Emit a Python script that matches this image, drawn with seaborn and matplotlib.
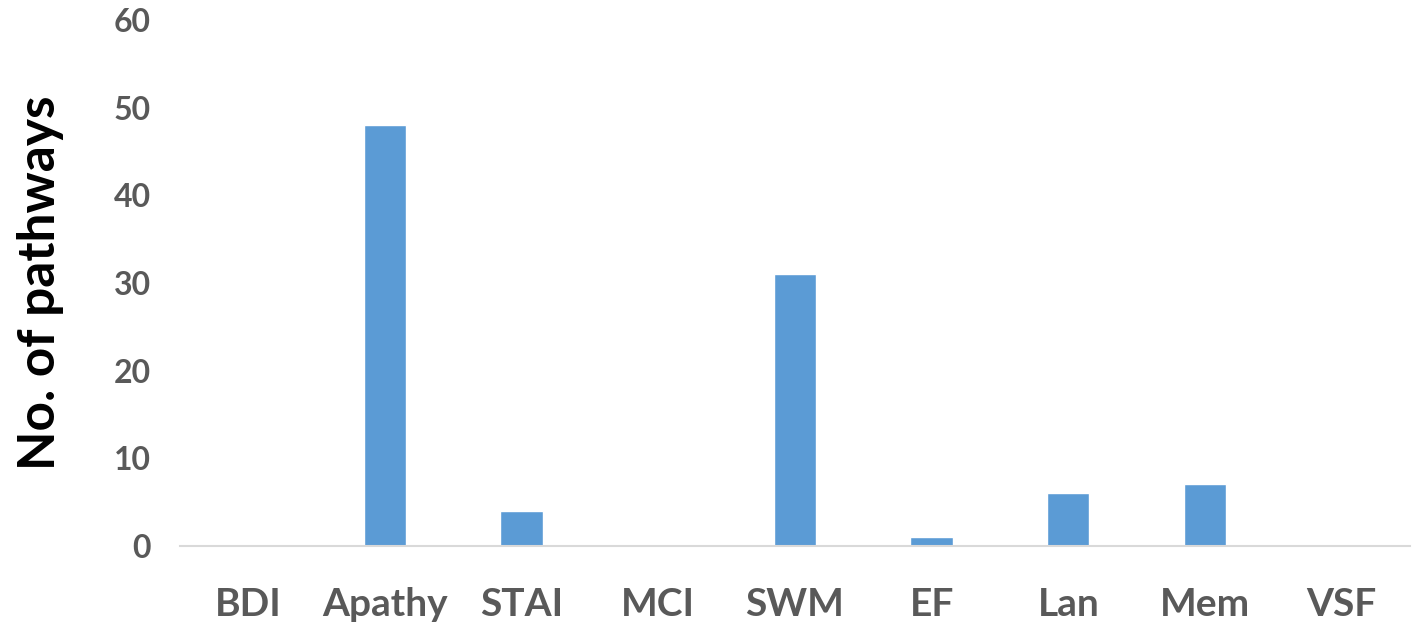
import pandas as pd
import matplotlib
matplotlib.use("Agg")
import matplotlib.pyplot as plt
import seaborn as sns

# Values
categories = ["BDI", "Apathy", "STAI", "MCI", "SWM", "EF", "Lan", "Mem", "VSF"]
pathways = [0, 48, 4, 0, 31, 1, 6, 7, 0]
y_ticks = [0, 10, 20, 30, 40, 50, 60]

df = pd.DataFrame({"measure": categories, "pathways": pathways})

sns.set_style("white")
plt.rcParams["font.family"] = ["Lato", "DejaVu Sans"]

fig = plt.figure(figsize=(14.17, 6.28), dpi=100)
ax = fig.add_axes([0.127, 0.131, 0.868, 0.837])

sns.barplot(data=df, x="measure", y="pathways", color="#5B9BD5",
            width=0.31, saturation=1, ax=ax)

ax.set_ylim(0, 60)
ax.set_yticks(y_ticks)
ax.set_xlim(-0.5, len(categories) - 0.5)

# Only the base line at zero, light gray
for side in ["top", "right", "left"]:
    ax.spines[side].set_visible(False)
ax.spines["bottom"].set_color("#D9D9D9")
ax.spines["bottom"].set_linewidth(1.5)

ax.tick_params(axis="y", length=0, pad=21, labelsize=23, labelcolor="#595959")
ax.tick_params(axis="x", length=0, pad=30, labelsize=28, labelcolor="#595959")
for lbl in ax.get_xticklabels() + ax.get_yticklabels():
    lbl.set_fontweight("bold")

ax.set_xlabel("")
ax.set_ylabel("No. of pathways", fontsize=37, fontweight="bold", color="black", labelpad=36)

fig.savefig("out.png", dpi=100)
